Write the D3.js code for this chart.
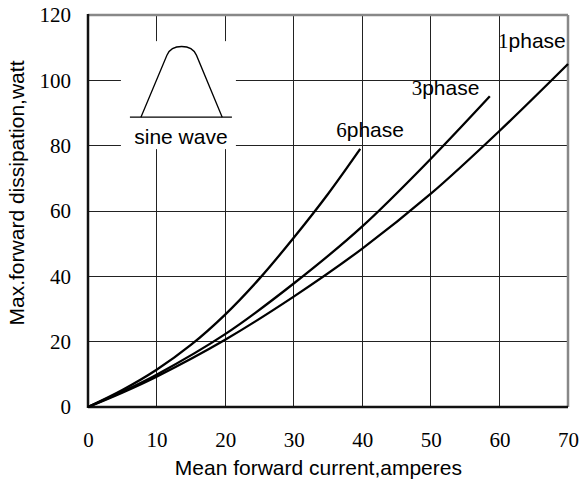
<!DOCTYPE html>
<html>
<head>
<meta charset="utf-8">
<script src="https://cdn.jsdelivr.net/npm/d3@7"></script>
<style>
  body { margin: 0; background: #fff; }
  text { fill: #000; }
</style>
</head>
<body>
<div id="chart"></div>
<script>
// tick values
const xTicks = [0, 10, 20, 30, 40, 50, 60, 70];
const yTicks = [0, 20, 40, 60, 80, 100, 120];

// curves (mean forward current, max dissipation)
const current1 = [0, 5, 10, 20, 30, 40, 50, 60, 70];
const dissip1  = [0, 4.4, 9.3, 20.6, 33.8, 48.5, 65.3, 84.5, 105];
const current3 = [0, 5, 10, 20, 30, 40, 50, 58.6];
const dissip3  = [0, 4.7, 9.9, 22.3, 37.8, 55.3, 76.0, 95.1];
const current6 = [0, 5, 10, 15, 20, 25, 30, 35, 39.7];
const dissip6  = [0, 5.2, 11.4, 19.0, 28.3, 39.3, 51.8, 65.2, 79];

const seriesNames = ["1", "3", "6"];

const margin = { top: 15, right: 14, bottom: 75, left: 88 };
const W = 582, H = 482;
const width = W - margin.left - margin.right,
    height = H - margin.top - margin.bottom;

const sans = "'Liberation Sans', Arial, sans-serif";
const serif = "'Liberation Serif', 'Times New Roman', serif";

const svg = d3.select("#chart").append("svg")
    .attr("width", W)
    .attr("height", H);

const g = svg.append("g")
    .attr("transform", "translate(" + margin.left + "," + margin.top + ")");

const x = d3.scaleLinear().domain([0, 70]).range([0, width]);
const y = d3.scaleLinear().domain([0, 120]).range([height, 0]);

//grid
g.append("g")
    .selectAll("line")
    .data(xTicks.slice(1, -1))
    .join("line")
    .attr("x1", d => x(d)).attr("x2", d => x(d))
    .attr("y1", 0).attr("y2", height)
    .attr("stroke", "#222").attr("stroke-width", 1)
    .attr("shape-rendering", "crispEdges");

g.append("g")
    .selectAll("line")
    .data(yTicks.slice(1, -1))
    .join("line")
    .attr("x1", 0).attr("x2", width)
    .attr("y1", d => y(d)).attr("y2", d => y(d))
    .attr("stroke", "#222").attr("stroke-width", 1)
    .attr("shape-rendering", "crispEdges");

//sine wave inset (white box hides the grid)
const inset = g.append("g").attr("transform", "translate(" + x(4.8) + "," + y(112) + ")");
inset.append("rect")
    .attr("x", 0).attr("y", 0)
    .attr("width", 115).attr("height", 108)
    .attr("fill", "#fff");
inset.append("line")
    .attr("x1", 9).attr("x2", 111)
    .attr("y1", 76).attr("y2", 76)
    .attr("stroke", "#000").attr("stroke-width", 1.3);
const hump = d3.path();
hump.moveTo(20, 76);
hump.lineTo(46, 14);
hump.bezierCurveTo(51, 2.5, 70.5, 2.5, 75.5, 14);
hump.lineTo(101.3, 76);
inset.append("path")
    .attr("d", hump.toString())
    .attr("fill", "none")
    .attr("stroke", "#000").attr("stroke-width", 1.3);
inset.append("text")
    .attr("x", 60).attr("y", 103)
    .attr("text-anchor", "middle")
    .style("font-family", sans).style("font-size", "21px")
    .text("sine wave");

//frame
g.append("line").attr("x1", 0).attr("x2", width).attr("y1", 0).attr("y2", 0)
    .attr("stroke", "#888").attr("stroke-width", 2.5);
g.append("line").attr("x1", width).attr("x2", width).attr("y1", 0).attr("y2", height)
    .attr("stroke", "#888").attr("stroke-width", 2.5);
g.append("line").attr("x1", 0).attr("x2", 0).attr("y1", -1).attr("y2", height + 1)
    .attr("stroke", "#111").attr("stroke-width", 2.5);
g.append("line").attr("x1", 0).attr("x2", width).attr("y1", height).attr("y2", height)
    .attr("stroke", "#111").attr("stroke-width", 2.5);

//axes
const xAxis = g.append("g")
    .attr("transform", "translate(0," + height + ")")
    .call(d3.axisBottom(x).tickValues(xTicks).tickSize(0).tickPadding(25));
const yAxis = g.append("g")
    .call(d3.axisLeft(y).tickValues(yTicks).tickSize(0).tickPadding(17));
[xAxis, yAxis].forEach(a => {
    a.select(".domain").remove();
    a.selectAll("text")
        .style("font-family", serif)
        .style("font-size", "21px")
        .attr("fill", "#222");
});

//curves
const series = [
    { name: "1", xs: current1, ys: dissip1 },
    { name: "3", xs: current3, ys: dissip3 },
    { name: "6", xs: current6, ys: dissip6 }
];
const line = d3.line()
    .x(d => x(d[0]))
    .y(d => y(d[1]))
    .curve(d3.curveCatmullRom.alpha(0.5));

g.selectAll(".curve")
    .data(series)
    .join("path")
    .attr("class", "curve")
    .attr("d", s => line(s.xs.map((v, i) => [v, s.ys[i]])))
    .attr("fill", "none")
    .attr("stroke", "#000")
    .attr("stroke-width", 2.3)
    .attr("stroke-linejoin", "round");

//curve labels, anchored in data units
const labelX = [59.8, 47.2, 36.2];
const labelY = [110, 95.6, 82.7];
const lab = g.selectAll(".lab")
    .data(seriesNames)
    .join("text")
    .attr("class", "lab")
    .attr("x", (d, i) => x(labelX[i]))
    .attr("y", (d, i) => y(labelY[i]))
    .style("font-size", "21px");
lab.append("tspan").style("font-family", serif).text(d => d);
lab.append("tspan").style("font-family", sans).text("phase");

//axis titles
svg.append("text")
    .attr("x", margin.left + x(33.6))
    .attr("y", 475)
    .attr("text-anchor", "middle")
    .style("font-family", sans).style("font-size", "21px")
    .text("Mean forward current,amperes");

svg.append("text")
    .attr("transform", "translate(24," + 193 + ") rotate(-90)")
    .attr("text-anchor", "middle")
    .style("font-family", sans).style("font-size", "21px")
    .text("Max.forward dissipation,watt");
</script>
</body>
</html>
